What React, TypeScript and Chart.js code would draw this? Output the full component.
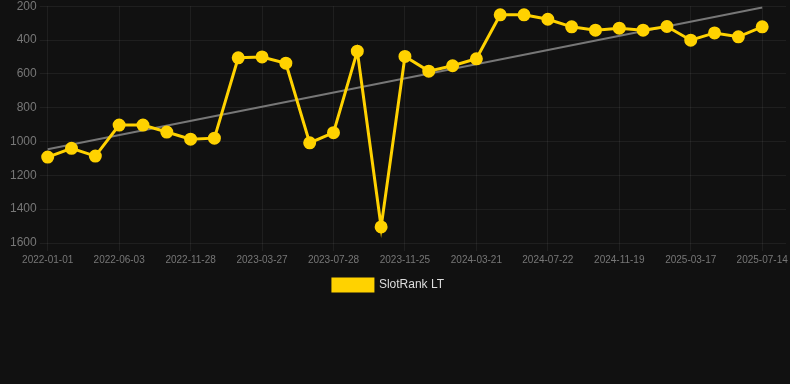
import React, { useEffect, useRef } from "react";
import { Chart, registerables } from "chart.js";

Chart.register(...registerables);

const dates: string[] = [
  "2022-01-01", "2022-02-21", "2022-04-13",
  "2022-06-03", "2022-07-31", "2022-09-29",
  "2022-11-28", "2023-01-07", "2023-02-16",
  "2023-03-27", "2023-05-07", "2023-06-17",
  "2023-07-28", "2023-09-07", "2023-10-17",
  "2023-11-25", "2024-01-03", "2024-02-11",
  "2024-03-21", "2024-05-01", "2024-06-11",
  "2024-07-22", "2024-09-01", "2024-10-10",
  "2024-11-19", "2024-12-28", "2025-02-05",
  "2025-03-17", "2025-04-26", "2025-06-04",
  "2025-07-14", "2025-08-23",
];

const rankValues: (number | null)[] = [
  1092, 1040, 1086, 903, 903, 944, 986, 980, 505, 500, 537, 1008, 948, 466, 1505,
  497, 584, 552, 511, 251, 251, 277, 322, 342, 330, 342, 320, 401, 358, 381, 322,
];

const trendValues: (number | null)[] = [1046, ...Array(29).fill(null), 208];

const yTicks = { min: 200, max: 1600, step: 200 };

const LABEL_EVERY = 3;

const legendShift = {
  id: "legendShift",
  afterLayout(chart: any) {
    if (chart.legend) {
      chart.legend.left -= 8;
      chart.legend.right -= 8;
    }
  },
};

export default function App() {
  const canvasRef = useRef<HTMLCanvasElement | null>(null);

  useEffect(() => {
    document.body.style.margin = "0";
    document.body.style.background = "#111111";
    const ctx = canvasRef.current!.getContext("2d")!;
    const gridColor = "rgba(255,255,255,0.06)";
    const tickColor = "#777777";
    const chart = new Chart(ctx, {
      type: "line",
      data: {
        labels: dates,
        datasets: [
          {
            label: "SlotRank LT",
            data: rankValues,
            borderColor: "#FFD200",
            backgroundColor: "#FFD200",
            borderWidth: 3,
            pointRadius: 5,
            pointHoverRadius: 5,
            pointBackgroundColor: "#FFD200",
            pointBorderColor: "#FFD200",
            tension: 0,
          },
          {
            label: "trend",
            data: trendValues,
            borderColor: "#777777",
            backgroundColor: "#777777",
            borderWidth: 2,
            pointRadius: 0,
            spanGaps: true,
            tension: 0,
          },
        ],
      },
      plugins: [legendShift],
      options: {
        animation: false,
        responsive: true,
        maintainAspectRatio: false,
        layout: { autoPadding: false, padding: { left: 7, right: 4, top: 0, bottom: 0 } },
        plugins: {
          legend: {
            position: "bottom",
            labels: {
              color: "#dddddd",
              font: { size: 12 },
              boxWidth: 40,
              boxHeight: 12,
              filter: (item) => item.text === "SlotRank LT",
            },
          },
          tooltip: { enabled: false },
        },
        scales: {
          x: {
            type: "category",
            grid: {
              color: (c: any) => (c.index % LABEL_EVERY === 0 && c.index < rankValues.length ? gridColor : "transparent"),
            },
            border: { display: false },
            ticks: {
              color: tickColor,
              font: { size: 10 },
              autoSkip: false,
              maxRotation: 0,
              callback: (_v: any, i: number) => (i % LABEL_EVERY === 0 && i < rankValues.length ? dates[i] : ""),
            },
          },
          y: {
            reverse: true,
            min: yTicks.min,
            max: yTicks.max,
            grid: { color: gridColor },
            border: { display: false },
            ticks: {
              stepSize: yTicks.step,
              color: tickColor,
              font: { size: 12 },
              callback: (v: any) => String(v),
            },
          },
        },
      },
    });
    return () => chart.destroy();
  }, []);

  return (
    <div style={{ position: "fixed", left: 0, top: -4, width: 790, height: 305, background: "#111111" }}>
      <canvas ref={canvasRef} />
    </div>
  );
}
